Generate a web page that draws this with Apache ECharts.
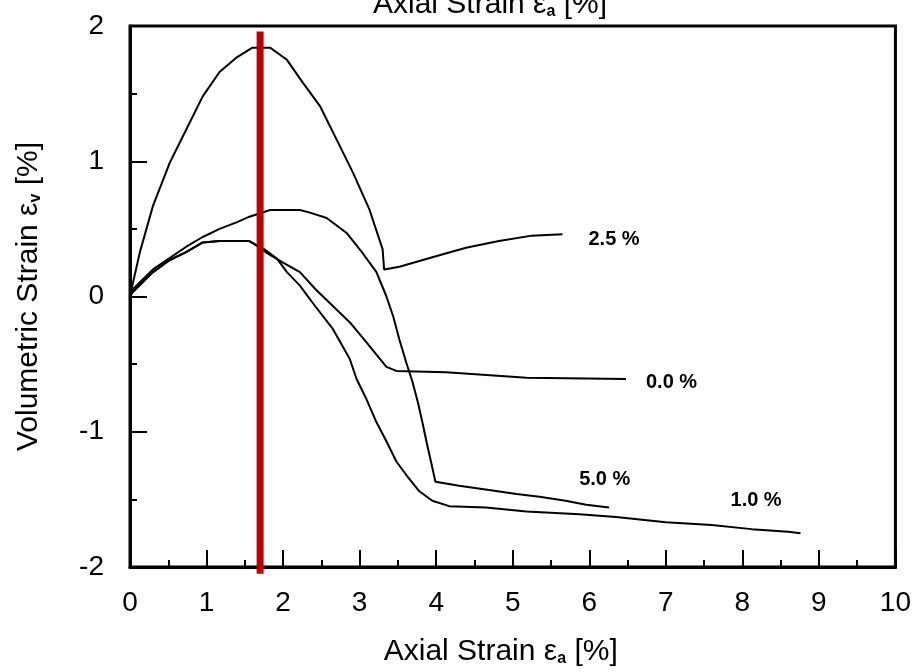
<!DOCTYPE html>
<html><head><meta charset="utf-8">
<script src="https://cdn.jsdelivr.net/npm/echarts@6/dist/echarts.min.js"></script>
<style>html,body{margin:0;padding:0;background:#fff}#c{width:914px;height:672px}</style>
</head><body><div id="c"></div>
<script>
const xTicks = [0,1,2,3,4,5,6,7,8,9,10];
const yTicks = [-2,-1,0,1,2];
const curveNames = ['2.5 %','5.0 %','0.0 %','1.0 %'];
const c25x = [0,0.03,0.13,0.30,0.52,0.74,0.95,1.17,1.40,1.60,1.83,2.05,2.26,2.48,2.70,2.91,3.13,3.30,3.32,3.52,3.95,4.39,4.82,5.25,5.65];
const c25y = [0,0.08,0.33,0.67,0.99,1.24,1.48,1.66,1.77,1.84,1.84,1.75,1.58,1.41,1.16,0.92,0.64,0.35,0.20,0.22,0.29,0.36,0.41,0.45,0.46];
const c50x = [0,0.03,0.30,0.74,0.95,1.17,1.40,1.56,1.83,2.22,2.35,2.57,2.83,3.04,3.22,3.35,3.44,3.52,3.61,3.69,3.76,3.82,3.88,3.94,3.99,4.30,4.69,5.05,5.35,5.69,5.96,6.26];
const c50y = [0,0.05,0.20,0.37,0.44,0.50,0.55,0.59,0.64,0.64,0.62,0.58,0.47,0.32,0.18,0.00,-0.15,-0.32,-0.49,-0.63,-0.78,-0.93,-1.09,-1.24,-1.37,-1.40,-1.43,-1.46,-1.48,-1.51,-1.54,-1.56];
const c00x = [0,0.03,0.30,0.52,0.74,0.95,1.17,1.56,1.70,1.79,2.00,2.22,2.43,2.65,2.87,3.09,3.35,3.48,4.13,5.18,6.48];
const c00y = [0,0.03,0.18,0.27,0.33,0.40,0.41,0.41,0.36,0.32,0.25,0.18,0.05,-0.07,-0.19,-0.34,-0.52,-0.55,-0.56,-0.60,-0.61];
const c10x = [0,0.03,0.30,0.52,0.74,0.95,1.17,1.56,1.75,1.92,2.05,2.22,2.39,2.65,2.87,2.96,3.09,3.22,3.35,3.48,3.61,3.78,3.95,4.17,4.65,5.18,5.87,6.35,7.00,7.60,8.12,8.60,8.76];
const c10y = [0,0.03,0.18,0.27,0.33,0.40,0.41,0.41,0.35,0.28,0.18,0.08,-0.05,-0.24,-0.46,-0.61,-0.76,-0.93,-1.07,-1.22,-1.32,-1.44,-1.51,-1.55,-1.56,-1.59,-1.61,-1.63,-1.67,-1.69,-1.72,-1.74,-1.75];
const refX = [1.7,1.7];
const refY = [1.96,-2.05];

const zip = (a,b) => a.map((v,i)=>[v,b[i]]);
const FONT = "'Liberation Sans','Arial',sans-serif";
const labelOffsets = [[26,5],[-30,-28],[20,3],[-70,-33]];
const curves = [[c25x,c25y],[c50x,c50y],[c00x,c00y],[c10x,c10y]];

const series = curves.map((c,i)=>({
  type:'line', name:curveNames[i], data:zip(c[0],c[1]), symbol:'none', smooth:false,
  lineStyle:{color:'#000',width:2}, animation:false,
  endLabel:{show:true, formatter:curveNames[i], color:'#000', fontFamily:FONT, fontWeight:'bold', fontSize:20, distance:0, offset:labelOffsets[i]}
}));
series.push({type:'line', data:zip(refX,refY), symbol:'none', clip:false, lineStyle:{color:'#c00000',width:7}, animation:false, z:5});

const nameRich = {e:{fontFamily:FONT,fontSize:30,color:'#000'}, s:{fontFamily:FONT,fontSize:16,color:'#000',verticalAlign:'bottom',fontWeight:'bold'}};
const chart = echarts.init(document.getElementById('c'));
chart.setOption({
  backgroundColor:'#fff',
  title:{text:'Axial Strain {e|ε}{s|a} [%]', left:368, top:-15, textStyle:{fontFamily:FONT, fontSize:30, fontWeight:'normal', color:'#000', rich:nameRich}},
  grid:{left:130, right:17, top:26, bottom:104, show:true, borderColor:'#000', borderWidth:3},
  xAxis:{type:'value', min:xTicks[0], max:xTicks[xTicks.length-1], interval:1,
    axisLine:{show:true, onZero:false, lineStyle:{color:'#000',width:3}},
    axisTick:{show:true, inside:true, length:17, lineStyle:{color:'#000',width:2}},
    minorTick:{show:true, splitNumber:2, length:7, lineStyle:{color:'#000',width:2}},
    splitLine:{show:false},
    axisLabel:{color:'#000', fontFamily:FONT, fontSize:28, margin:22},
    name:'Axial Strain {e|ε}{s|a} [%]', nameLocation:'middle', nameGap:70,
    nameTextStyle:{color:'#000', fontFamily:FONT, fontSize:30, padding:[0,24,0,0], rich:nameRich}},
  yAxis:{type:'value', min:yTicks[0], max:yTicks[yTicks.length-1], interval:1,
    axisLine:{show:true, onZero:false, lineStyle:{color:'#000',width:3}},
    axisTick:{show:true, inside:true, length:17, lineStyle:{color:'#000',width:2}},
    minorTick:{show:true, splitNumber:2, length:7, lineStyle:{color:'#000',width:2}},
    splitLine:{show:false},
    axisLabel:{color:'#000', fontFamily:FONT, fontSize:28, margin:26},
    name:'Volumetric Strain {e|ε}{s|v} [%]', nameLocation:'middle', nameGap:86,
    nameTextStyle:{color:'#000', fontFamily:FONT, fontSize:30, rich:nameRich}},
  series:series
});
</script></body></html>
